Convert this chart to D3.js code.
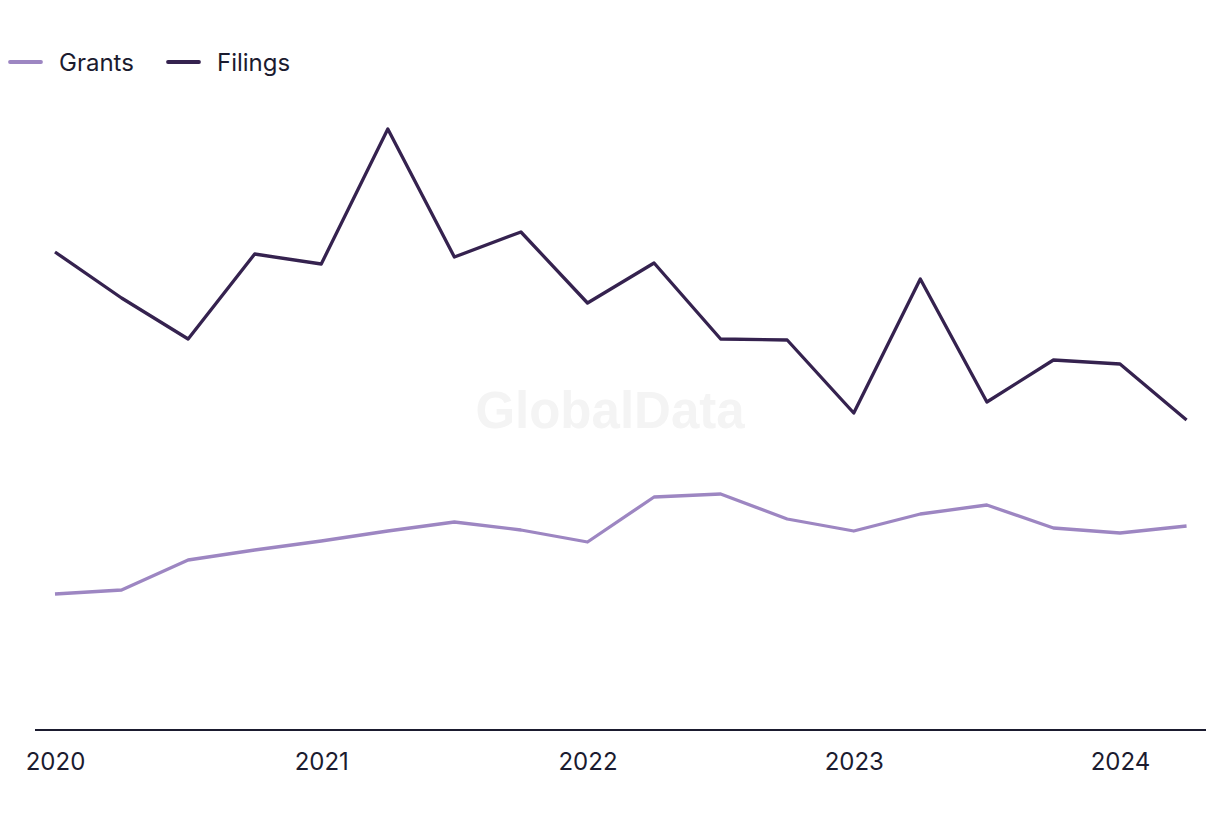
<!DOCTYPE html>
<html>
<head>
<meta charset="utf-8">
<script src="https://cdn.jsdelivr.net/npm/d3@7"></script>
<style>
  html, body { margin: 0; padding: 0; background: #ffffff; }
  svg { display: block; }
</style>
</head>
<body>
<script>
const quarters = ["2020 Q1","2020 Q2","2020 Q3","2020 Q4","2021 Q1","2021 Q2","2021 Q3","2021 Q4",
                  "2022 Q1","2022 Q2","2022 Q3","2022 Q4","2023 Q1","2023 Q2","2023 Q3","2023 Q4",
                  "2024 Q1","2024 Q2"];
const filings = [478, 432, 391, 476, 466, 601, 473, 498, 427, 467, 391, 390, 317, 451, 328, 370, 366, 310];
const grants  = [136, 140, 170, 180, 189, 199, 208, 200, 188, 233, 236, 211, 199, 216, 225, 202, 197, 204];
const tickLabels = ["2020", "2021", "2022", "2023", "2024"];
const tickQuarters = ["2020 Q1", "2021 Q1", "2022 Q1", "2023 Q1", "2024 Q1"];
const seriesNames = ["Grants", "Filings"];

const W = 1220, H = 820;
const colors = { Grants: "#9d86c2", Filings: "#35224f" };
const textColor = "#1b1b2f";
const font = "Inter, 'Liberation Sans', Arial, sans-serif";

const svg = d3.select("body").append("svg").attr("width", W).attr("height", H);

const x = d3.scalePoint().domain(quarters).range([55, 55 + 17 * (1120 - 55) / 16]);
const y = d3.scaleLinear().domain([0, 600]).range([730, 130]);

// watermark
svg.append("text")
  .attr("x", 610).attr("y", 428)
  .attr("text-anchor", "middle")
  .attr("font-family", "'Liberation Sans', Arial, sans-serif")
  .attr("font-weight", "bold")
  .attr("font-size", 51)
  .attr("fill", "#f4f4f4")
  .text("GlobalData");

// x axis
const axis = d3.axisBottom(x)
  .tickValues(tickQuarters)
  .tickFormat((d) => tickLabels[tickQuarters.indexOf(d)])
  .tickSize(0)
  .tickPadding(40);
const gx = svg.append("g").attr("transform", `translate(0,${y(0)})`).call(axis);
gx.select(".domain").remove();
gx.append("line")
  .attr("x1", 35).attr("x2", 1206).attr("y1", 0).attr("y2", 0)
  .attr("stroke", textColor).attr("stroke-width", 2);
gx.selectAll(".tick text")
  .attr("dy", 0)
  .attr("font-family", font)
  .attr("font-size", 24)
  .attr("fill", textColor);

// lines
const line = (vals) => d3.line()
  .x((d, i) => x(quarters[i]))
  .y((d) => y(d))(vals);

svg.append("path")
  .attr("d", line(grants))
  .attr("fill", "none")
  .attr("stroke", colors.Grants)
  .attr("stroke-width", 3.3)
  .attr("stroke-linejoin", "round");

svg.append("path")
  .attr("d", line(filings))
  .attr("fill", "none")
  .attr("stroke", colors.Filings)
  .attr("stroke-width", 3.3)
  .attr("stroke-linejoin", "round");

// legend
const legendX = [10, 168];
const lg = svg.append("g");
seriesNames.forEach((name, i) => {
  const g = lg.append("g").attr("transform", `translate(${legendX[i]},62)`);
  g.append("line")
    .attr("x1", 0).attr("x2", 31).attr("y1", 0).attr("y2", 0)
    .attr("stroke", colors[name]).attr("stroke-width", 3.8)
    .attr("stroke-linecap", "round");
  g.append("text")
    .attr("x", 49).attr("y", 8.5)
    .attr("font-family", font)
    .attr("font-size", 24)
    .attr("fill", textColor)
    .text(name);
});
</script>
</body>
</html>
